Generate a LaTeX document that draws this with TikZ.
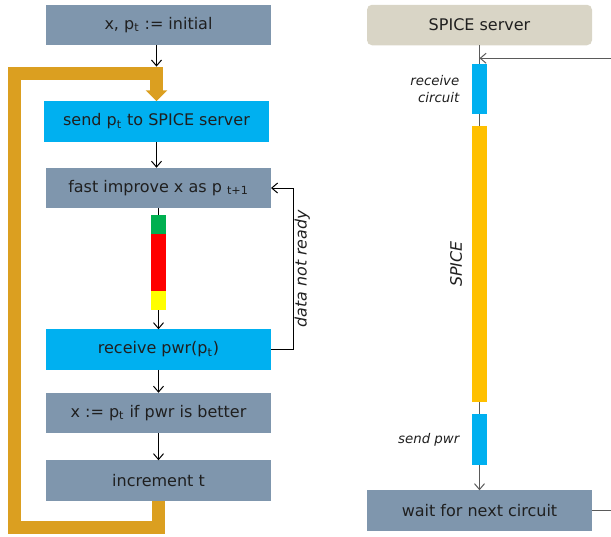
\documentclass[tikz,border=0pt]{standalone}
\usepackage{fontspec}
\setmainfont{DejaVu Sans}
\usetikzlibrary{arrows.meta,positioning}

\definecolor{slate}{HTML}{7F96AD}
\definecolor{skyblue}{HTML}{00B0F0}
\definecolor{loopgold}{HTML}{DB9F20}
\definecolor{servergray}{HTML}{D9D5C6}
\definecolor{amber}{HTML}{FFC000}
\definecolor{barred}{HTML}{FF0000}
\definecolor{bargreen}{HTML}{00B050}
\definecolor{baryellow}{HTML}{FFFF00}
\definecolor{lifegray}{HTML}{5A5A5A}

\begin{document}
\begin{tikzpicture}[
    font=\fontsize{9.6}{11}\selectfont,
    text=black!88,
    node distance=15pt,
    outer sep=0pt,
    task/.style={fill=slate, minimum width=135pt, minimum height=24.3pt, inner sep=2pt},
    comm/.style={task, fill=skyblue},
    phase/.style={fill=#1, minimum width=9pt, inner sep=0pt},
    note/.style={font=\fontsize{#1}{10}\selectfont\itshape, inner sep=1pt, align=right},
    note/.default=8,
    arrow/.style={-{Straight Barb[length=3.5pt,width=6pt]}, semithick},
    life/.style={draw=lifegray, line width=0.7pt},
    loopband/.style={draw=loopgold, line width=8.1pt, -{Triangle[width=12.6pt,length=6.6pt]}}
  ]
    \useasboundingbox (0,0) rectangle (366.6pt,-321.6pt);
    \clip (0,0) rectangle (366.6pt,-321.6pt);

    % optimiser side
    \node[task] (init) at (95.1pt,-15pt) {x, p\textsubscript{t} := initial};
    \node[comm, below=33.6pt of init, xshift=-1.2pt] (send) {send p\textsubscript{t} to SPICE server};
    \node[task, below=15.6pt of send, xshift=1.2pt] (fast) {fast improve x as p \textsubscript{t+1}};
    \node[phase=bargreen, minimum height=11.4pt, below=4.2pt of fast] (good) {};
    \node[phase=barred, minimum height=34.2pt, below=0pt of good] (busy) {};
    \node[phase=baryellow, minimum height=11.4pt, below=0pt of busy] (done) {};
    \node[comm, below=11.4pt of done] (recv) {receive pwr(p\textsubscript{t})};
    \node[task, below=13.8pt of recv] (keep) {x := p\textsubscript{t} if pwr is better};
    \node[task, below=16.2pt of keep] (inc) {increment t};

    % server side
    \node[task, fill=servergray, rounded corners=3pt, right=57.6pt of init] (server) {SPICE server};
    \node[phase=skyblue, minimum height=30pt, below=11.4pt of server] (getckt) {};
    \node[phase=amber, minimum height=165.6pt, below=7.2pt of getckt] (spice) {};
    \node[phase=skyblue, minimum height=30.6pt, below=7.2pt of spice] (putpwr) {};
    \node[task, below=15pt of putpwr] (wait) {wait for next circuit};

    \node[note, left=6.6pt of getckt] {receive\\circuit};
    \node[note, left=6.6pt of putpwr] {send pwr};
    \node[note=9.5, rotate=90, anchor=south] at ([xshift=-5pt]spice.west) {SPICE};

    \coordinate (bend) at ([yshift=16.8pt]send.north);
    \coordinate (entry) at ([yshift=4pt]bend);
    \coordinate (cktin) at ([yshift=-7.8pt]server.south);

    \draw[loopband] (inc.south) -- ++(0,-15.9pt) -| ([xshift=-85.2pt]bend) -- (bend) -- (send.north);
    \draw[arrow] (send.north |- init.south) -- (entry);
    \draw[arrow] (send.south) -- (send.south |- fast.north);
    \draw[semithick] (fast.south) -- (good.north);
    \draw[arrow] (done) -- (recv);
    \draw[arrow] (recv) -- (keep);
    \draw[arrow] (keep) -- (inc);
    \draw[arrow] (recv.east) -- ++(13.2pt,0) |- node[note=9.5, pos=0.25, rotate=90, anchor=north] {data not ready} (fast.east);

    \draw[life] (server) -- (getckt);
    \draw[life] (getckt) -- (spice);
    \draw[life] (spice) -- (putpwr);
    \draw[life, arrow] (putpwr) -- (wait);
    \draw[life, arrow] (wait.east) -- ++(18pt,0) |- (cktin);
  \end{tikzpicture}
\end{document}
